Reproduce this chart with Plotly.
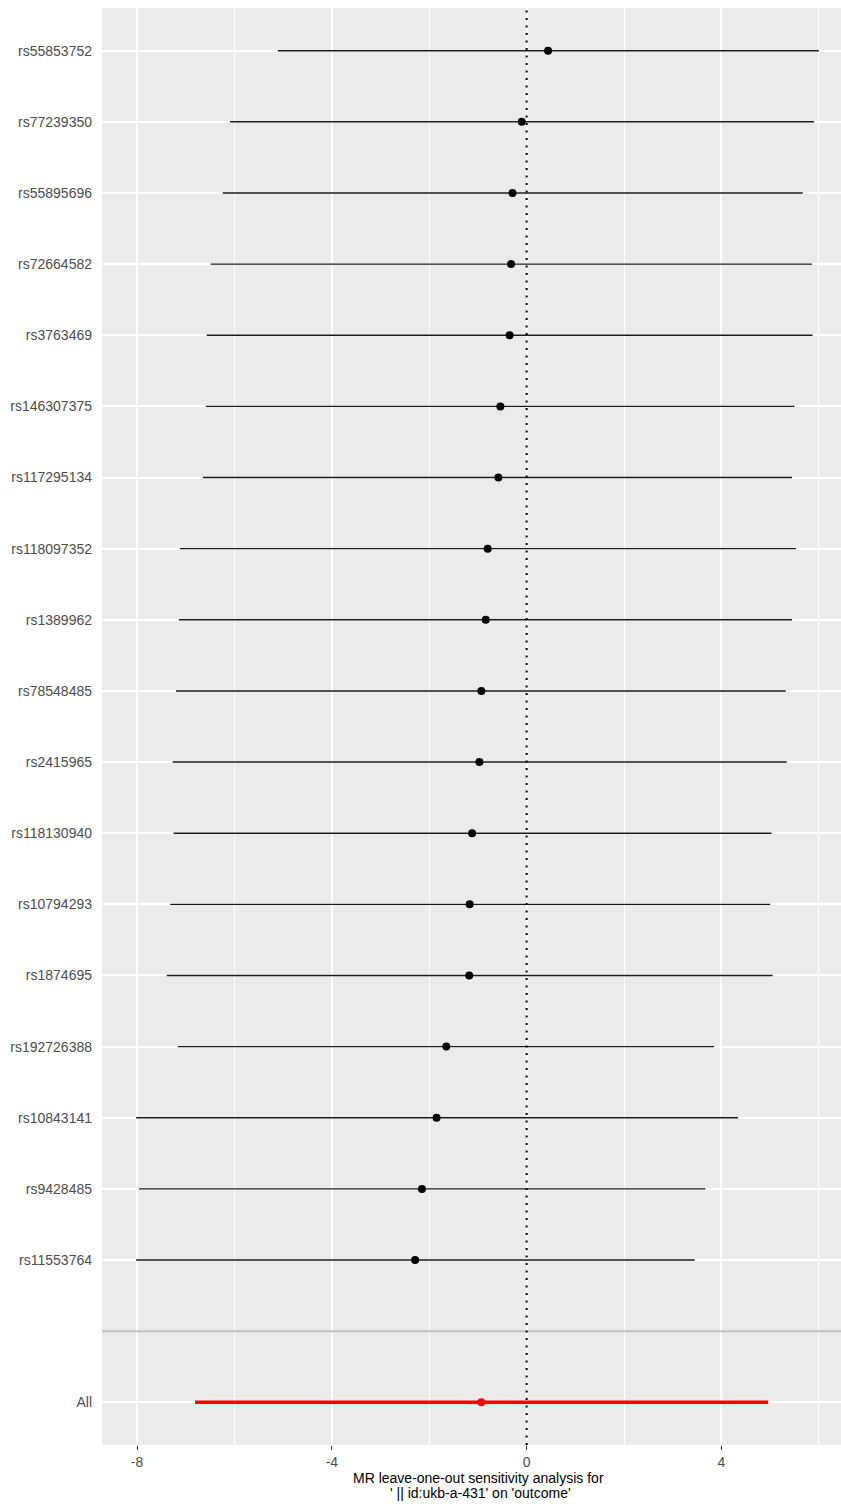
import plotly.graph_objects as go

# Leave-one-out MR estimates (each row: result with that SNP removed)
snps = [
    "rs55853752", "rs77239350", "rs55895696", "rs72664582", "rs3763469",
    "rs146307375", "rs117295134", "rs118097352", "rs1389962", "rs78548485",
    "rs2415965", "rs118130940", "rs10794293", "rs1874695", "rs192726388",
    "rs10843141", "rs9428485", "rs11553764",
]
beta = [0.44, -0.10, -0.29, -0.32, -0.35, -0.54, -0.58, -0.80, -0.84, -0.93,
        -0.97, -1.12, -1.17, -1.18, -1.65, -1.85, -2.15, -2.29]
lower = [-5.11, -6.09, -6.24, -6.49, -6.57, -6.59, -6.65, -7.12, -7.14, -7.20,
         -7.27, -7.25, -7.32, -7.39, -7.16, -8.02, -7.96, -8.02]
upper = [6.00, 5.90, 5.67, 5.86, 5.87, 5.50, 5.45, 5.53, 5.45, 5.32,
         5.34, 5.03, 5.00, 5.05, 3.85, 4.34, 3.67, 3.45]

# Combined estimate using all SNPs
all_label = "All"
all_beta = [-0.93]
all_lower = [-6.81]
all_upper = [4.96]

x_ticks = [-8, -4, 0, 4]
x_tick_labels = ["-8", "-4", "0", "4"]
x_minor = [-6, -2, 2, 6]

title_line1 = "MR leave-one-out sensitivity analysis for"
title_line2 = "' || id:ukb-a-431' on 'outcome'"

# Row positions: SNPs on top, an empty separator row, then "All" at the bottom
n = len(snps)
snp_pos = [n + 2 - i for i in range(n)]
gap_pos = 2
all_pos = 1

fig = go.Figure()

fig.add_trace(go.Scatter(
    x=beta, y=snp_pos, mode="markers",
    marker=dict(color="black", size=8),
    error_x=dict(type="data", symmetric=False,
                 array=[u - b for u, b in zip(upper, beta)],
                 arrayminus=[b - l for b, l in zip(beta, lower)],
                 width=0, thickness=1.4, color="#1a1a1a"),
    showlegend=False, hoverinfo="skip",
))

fig.add_trace(go.Scatter(
    x=all_beta, y=[all_pos], mode="markers",
    marker=dict(color="#FF0000", size=8),
    error_x=dict(type="data", symmetric=False,
                 array=[u - b for u, b in zip(all_upper, all_beta)],
                 arrayminus=[b - l for b, l in zip(all_beta, all_lower)],
                 width=0, thickness=3.6, color="#FF0000"),
    showlegend=False, hoverinfo="skip",
))

# Separator line and the null-effect reference line
fig.add_shape(type="line", xref="paper", x0=0, x1=1, yref="y", y0=gap_pos, y1=gap_pos,
              line=dict(color="#BEBEBE", width=2))
fig.add_shape(type="line", xref="x", x0=0, x1=0, yref="paper", y0=0, y1=1,
              line=dict(color="black", width=2, dash="2px,5.5px"))

tick_font = dict(family="Liberation Sans, Arial, sans-serif", size=14, color="#4D4D4D")

fig.update_xaxes(
    range=[-8.72, 6.455],
    tickvals=x_ticks, ticktext=x_tick_labels,
    showgrid=True, gridcolor="white", gridwidth=2,
    minor=dict(tickvals=x_minor, showgrid=True, gridcolor="white", gridwidth=1, ticks=""),
    ticks="outside", ticklen=4, tickwidth=1, tickcolor="#333333",
    tickfont=tick_font, zeroline=False, showline=False,
)
fig.update_yaxes(
    range=[0.4, n + 2.6],
    tickvals=snp_pos + [gap_pos, all_pos], ticktext=snps + ["", all_label],
    showgrid=True, gridcolor="white", gridwidth=2,
    ticks="", ticklabelstandoff=9,
    tickfont=tick_font, zeroline=False, showline=False,
)

title_font = dict(family="Liberation Sans, Arial, sans-serif", size=14, color="black")
fig.add_annotation(text=title_line1, xref="paper", yref="paper", x=0.5095, y=0,
                   xanchor="center", yanchor="middle", yshift=-33,
                   showarrow=False, font=title_font)
fig.add_annotation(text=title_line2, xref="paper", yref="paper", x=0.5125, y=0,
                   xanchor="center", yanchor="middle", yshift=-48,
                   showarrow=False, font=title_font)

fig.update_layout(
    width=841, height=1504, autosize=False,
    margin=dict(l=102, r=0, t=8, b=59, pad=0),
    plot_bgcolor="#EBEBEB", paper_bgcolor="white",
)

fig.write_html("out.html")
